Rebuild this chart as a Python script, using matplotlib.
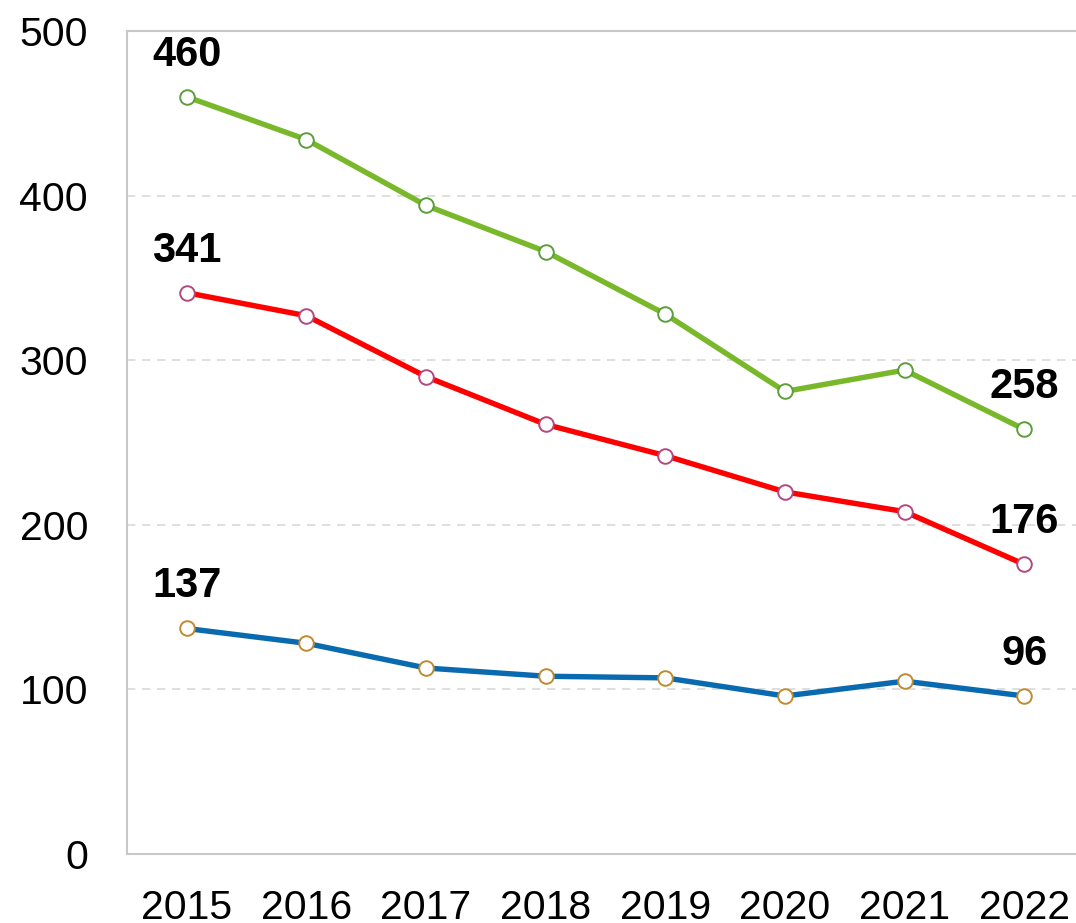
import numpy as np
import matplotlib.pyplot as plt

plt.rcParams['font.family'] = ['Liberation Sans', 'DejaVu Sans']

years = ['2015', '2016', '2017', '2018', '2019', '2020', '2021', '2022']
green_vals = [460, 434, 394, 366, 328, 281, 294, 258]
red_vals = [341, 327, 290, 261, 242, 220, 208, 176]
blue_vals = [137, 128, 113, 108, 107, 96, 105, 96]

series = [
    (green_vals, '#78b82a', '#5c9e3c'),
    (red_vals, '#ff0000', '#b4487e'),
    (blue_vals, '#0a6ab0', '#c08a30'),
]

fig = plt.figure(figsize=(10.76, 9.23), dpi=100)
ax = fig.add_axes([127 / 1076, (923 - 854) / 923, (1084 - 127) / 1076, (854 - 31) / 923])

x = np.arange(len(years))
for vals, lc, mc in series:
    ax.plot(x, vals, color=lc, lw=3.9, marker='o', ms=10.5,
            mfc='white', mec=mc, mew=1.4, zorder=3)
    for i in (0, len(vals) - 1):
        ax.annotate(str(vals[i]), (x[i], vals[i]), xytext=(0, 42),
                    textcoords='offset pixels', ha='center', va='center',
                    fontsize=30, fontweight='bold', color='black', zorder=4)

ax.set_xlim(-0.5, 7.5)
ax.set_ylim(0, 500)
ax.set_xticks(x)
ax.set_xticklabels(years)
ax.set_yticks([0, 100, 200, 300, 400, 500])
ax.tick_params(length=0, labelsize=29.5, colors='black')
ax.tick_params(axis='y', pad=28)
ax.tick_params(axis='x', pad=25)

for y in [100, 200, 300, 400]:
    ax.axhline(y, color='#d9d9d9', lw=1.2, ls=(0, (5, 4)), zorder=1)

for s in ['left', 'bottom', 'top']:
    ax.spines[s].set_color('#c8c8c8')
    ax.spines[s].set_linewidth(1.5)
ax.spines['right'].set_visible(False)

plt.savefig('out.png', dpi=100)
